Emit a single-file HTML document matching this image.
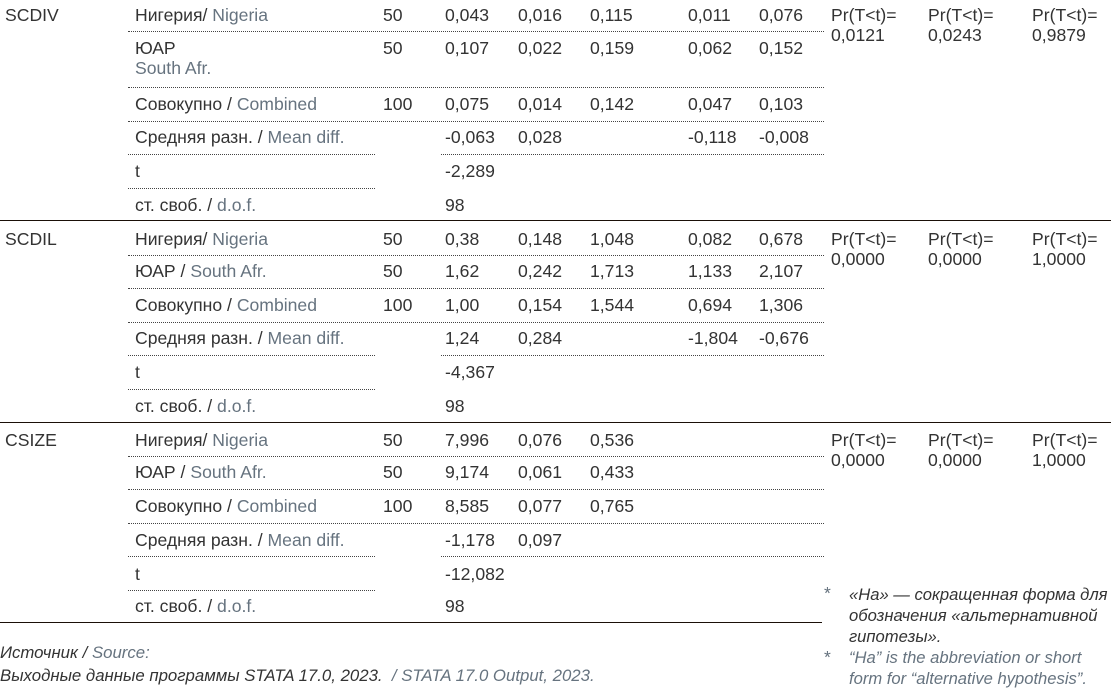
<!DOCTYPE html>
<html><head><meta charset="utf-8"><style>
body{margin:0;width:1111px;height:694px;background:#fff;position:relative;overflow:hidden;font-family:"Liberation Sans","DejaVu Sans",sans-serif;font-size:17.6px;color:#333}
.t{position:absolute;white-space:nowrap;line-height:20px}
.e{color:#66737f}
.d{position:absolute;height:0;border-top:1px dotted #444}
.s{position:absolute;height:0;border-top:1.5px solid #1a0f08;left:0}
.i{font-style:italic;font-size:16.8px}
</style></head><body>

<!-- SCDIV -->
<div class="t" style="left:5px;top:5px">SCDIV</div>
<div class="t" style="left:135px;top:5px">Нигерия/ <span class="e">Nigeria</span></div>
<div class="t" style="left:383px;top:5px">50</div><div class="t" style="left:445px;top:5px">0,043</div><div class="t" style="left:518px;top:5px">0,016</div><div class="t" style="left:590px;top:5px">0,115</div><div class="t" style="left:688px;top:5px">0,011</div><div class="t" style="left:759px;top:5px">0,076</div>
<div class="t" style="left:831px;top:5px">Pr(T&lt;t)=<br>0,0121</div><div class="t" style="left:928px;top:5px">Pr(T&lt;t)=<br>0,0243</div><div class="t" style="left:1032px;top:5px">Pr(T&lt;t)=<br>0,9879</div>
<div class="d" style="left:128px;width:696px;top:31px"></div>
<div class="t" style="left:135px;top:38px">ЮАР<br><span class="e">South Afr.</span></div>
<div class="t" style="left:383px;top:38px">50</div><div class="t" style="left:445px;top:38px">0,107</div><div class="t" style="left:518px;top:38px">0,022</div><div class="t" style="left:590px;top:38px">0,159</div><div class="t" style="left:688px;top:38px">0,062</div><div class="t" style="left:759px;top:38px">0,152</div>
<div class="d" style="left:128px;width:696px;top:87px"></div>
<div class="t" style="left:135px;top:94px">Совокупно / <span class="e">Combined</span></div>
<div class="t" style="left:383px;top:94px">100</div><div class="t" style="left:445px;top:94px">0,075</div><div class="t" style="left:518px;top:94px">0,014</div><div class="t" style="left:590px;top:94px">0,142</div><div class="t" style="left:688px;top:94px">0,047</div><div class="t" style="left:759px;top:94px">0,103</div>
<div class="d" style="left:128px;width:696px;top:121px"></div>
<div class="t" style="left:135px;top:127px">Средняя разн. / <span class="e">Mean diff.</span></div>
<div class="t" style="left:445px;top:127px">-0,063</div><div class="t" style="left:518px;top:127px">0,028</div><div class="t" style="left:688px;top:127px">-0,118</div><div class="t" style="left:759px;top:127px">-0,008</div>
<div class="d" style="left:128px;width:247px;top:154px"></div><div class="d" style="left:441px;width:383px;top:154px"></div>
<div class="t" style="left:135px;top:161px">t</div><div class="t" style="left:445px;top:161px">-2,289</div>
<div class="d" style="left:128px;width:247px;top:188px"></div>
<div class="t" style="left:135px;top:195px">ст. своб. / <span class="e">d.o.f.</span></div><div class="t" style="left:445px;top:195px">98</div>
<div class="s" style="width:1111px;top:220px"></div>

<!-- SCDIL -->
<div class="t" style="left:5px;top:229px">SCDIL</div>
<div class="t" style="left:135px;top:229px">Нигерия/ <span class="e">Nigeria</span></div>
<div class="t" style="left:383px;top:229px">50</div><div class="t" style="left:445px;top:229px">0,38</div><div class="t" style="left:518px;top:229px">0,148</div><div class="t" style="left:590px;top:229px">1,048</div><div class="t" style="left:688px;top:229px">0,082</div><div class="t" style="left:759px;top:229px">0,678</div>
<div class="t" style="left:831px;top:229px">Pr(T&lt;t)=<br>0,0000</div><div class="t" style="left:928px;top:229px">Pr(T&lt;t)=<br>0,0000</div><div class="t" style="left:1032px;top:229px">Pr(T&lt;t)=<br>1,0000</div>
<div class="d" style="left:128px;width:696px;top:255px"></div>
<div class="t" style="left:135px;top:261px">ЮАР / <span class="e">South Afr.</span></div>
<div class="t" style="left:383px;top:261px">50</div><div class="t" style="left:445px;top:261px">1,62</div><div class="t" style="left:518px;top:261px">0,242</div><div class="t" style="left:590px;top:261px">1,713</div><div class="t" style="left:688px;top:261px">1,133</div><div class="t" style="left:759px;top:261px">2,107</div>
<div class="d" style="left:128px;width:696px;top:288px"></div>
<div class="t" style="left:135px;top:295px">Совокупно / <span class="e">Combined</span></div>
<div class="t" style="left:383px;top:295px">100</div><div class="t" style="left:445px;top:295px">1,00</div><div class="t" style="left:518px;top:295px">0,154</div><div class="t" style="left:590px;top:295px">1,544</div><div class="t" style="left:688px;top:295px">0,694</div><div class="t" style="left:759px;top:295px">1,306</div>
<div class="d" style="left:128px;width:696px;top:322px"></div>
<div class="t" style="left:135px;top:328px">Средняя разн. / <span class="e">Mean diff.</span></div>
<div class="t" style="left:445px;top:328px">1,24</div><div class="t" style="left:518px;top:328px">0,284</div><div class="t" style="left:688px;top:328px">-1,804</div><div class="t" style="left:759px;top:328px">-0,676</div>
<div class="d" style="left:128px;width:247px;top:355px"></div><div class="d" style="left:441px;width:383px;top:355px"></div>
<div class="t" style="left:135px;top:362px">t</div><div class="t" style="left:445px;top:362px">-4,367</div>
<div class="d" style="left:128px;width:247px;top:389px"></div>
<div class="t" style="left:135px;top:396px">ст. своб. / <span class="e">d.o.f.</span></div><div class="t" style="left:445px;top:396px">98</div>
<div class="s" style="width:1111px;top:422px"></div>

<!-- CSIZE -->
<div class="t" style="left:5px;top:430px">CSIZE</div>
<div class="t" style="left:135px;top:430px">Нигерия/ <span class="e">Nigeria</span></div>
<div class="t" style="left:383px;top:430px">50</div><div class="t" style="left:445px;top:430px">7,996</div><div class="t" style="left:518px;top:430px">0,076</div><div class="t" style="left:590px;top:430px">0,536</div>
<div class="t" style="left:831px;top:430px">Pr(T&lt;t)=<br>0,0000</div><div class="t" style="left:928px;top:430px">Pr(T&lt;t)=<br>0,0000</div><div class="t" style="left:1032px;top:430px">Pr(T&lt;t)=<br>1,0000</div>
<div class="d" style="left:128px;width:696px;top:456px"></div>
<div class="t" style="left:135px;top:462px">ЮАР / <span class="e">South Afr.</span></div>
<div class="t" style="left:383px;top:462px">50</div><div class="t" style="left:445px;top:462px">9,174</div><div class="t" style="left:518px;top:462px">0,061</div><div class="t" style="left:590px;top:462px">0,433</div>
<div class="d" style="left:128px;width:696px;top:489px"></div>
<div class="t" style="left:135px;top:496px">Совокупно / <span class="e">Combined</span></div>
<div class="t" style="left:383px;top:496px">100</div><div class="t" style="left:445px;top:496px">8,585</div><div class="t" style="left:518px;top:496px">0,077</div><div class="t" style="left:590px;top:496px">0,765</div>
<div class="d" style="left:128px;width:696px;top:523px"></div>
<div class="t" style="left:135px;top:530px">Средняя разн. / <span class="e">Mean diff.</span></div>
<div class="t" style="left:445px;top:530px">-1,178</div><div class="t" style="left:518px;top:530px">0,097</div>
<div class="d" style="left:128px;width:247px;top:556px"></div><div class="d" style="left:441px;width:383px;top:556px"></div>
<div class="t" style="left:135px;top:564px">t</div><div class="t" style="left:445px;top:564px">-12,082</div>
<div class="d" style="left:128px;width:247px;top:590px"></div>
<div class="t" style="left:135px;top:596px">ст. своб. / <span class="e">d.o.f.</span></div><div class="t" style="left:445px;top:596px">98</div>
<div class="s" style="width:822px;top:622px"></div>

<!-- footer -->
<div class="t i" style="left:0;top:643px">Источник / <span class="e">Source:</span></div>
<div class="t i" style="left:0;top:666px">Выходные данные программы STATA 17.0, 2023.&nbsp; <span class="e">/ STATA 17.0 Output, 2023.</span></div>

<div class="t e" style="left:824px;top:583px">*</div>
<div class="t i" style="left:849px;top:584px;line-height:21px;font-size:16.6px">«На» — сокращенная форма для<br>обозначения «альтернативной<br>гипотезы».</div>
<div class="t e" style="left:824px;top:647px">*</div>
<div class="t i e" style="left:849px;top:647px;line-height:21px;font-size:16.6px">“Ha” is the abbreviation or short<br>form for “alternative hypothesis”.</div>
</body></html>
